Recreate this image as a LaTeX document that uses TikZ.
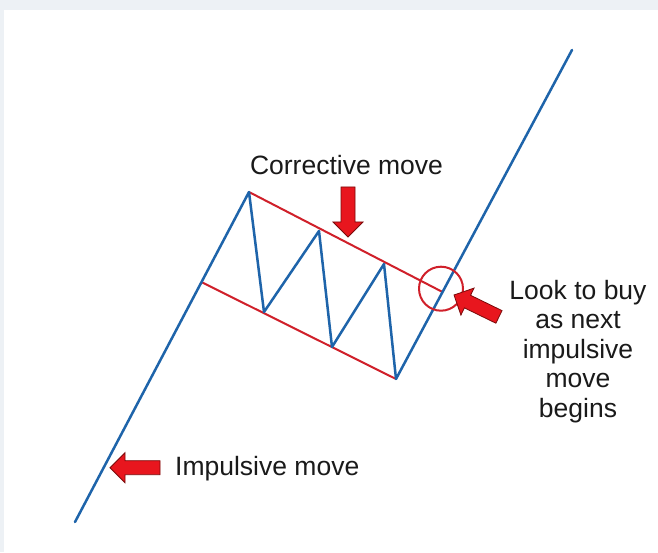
\documentclass[tikz,border=0pt]{standalone}
\usepackage{fontspec}
\setmainfont{Liberation Sans}
\usetikzlibrary{calc}
\definecolor{bgstrip}{HTML}{EDF1F5}
\definecolor{trendblue}{HTML}{1E64AA}
\definecolor{chanred}{HTML}{D0202A}
\definecolor{arrowfill}{HTML}{E8161E}
\definecolor{arrowedge}{HTML}{7A0A0A}
\definecolor{txtcol}{HTML}{1A1A1A}
\tikzset{
  trend/.style={draw=trendblue, line width=2.5pt, line cap=round, line join=round},
  channel/.style={draw=chanred, line width=2pt},
  blockarrow/.pic={\filldraw[fill=arrowfill, draw=arrowedge, line width=0.8pt, line join=miter]
     (0,0) -- (-15,15) -- (-15,7) -- (-50,7) -- (-50,-7) -- (-15,-7) -- (-15,-15) -- cycle;},
  lbltext/.style={text=txtcol, font=\fontsize{26.5}{29.5}\selectfont, inner sep=0pt}
}
\begin{document}
\begin{tikzpicture}[x=1pt,y=1pt]
\useasboundingbox (0,0) rectangle (658,552);
\fill[bgstrip] (0,0) rectangle (658,552);
\fill[white] (4,0) rectangle (658,542);
% trend vertices
\coordinate (A) at (75,30);
\coordinate (P1) at (249,360);
\coordinate (V1) at (264,240);
\coordinate (P2) at (319,321);
\coordinate (V2) at (332,205);
\coordinate (P3) at (384,288);
\coordinate (V3) at (396,173);
\coordinate (E) at (572,502);
\coordinate (L0) at ($(A)!0.727!(P1)$);
\coordinate (U1) at ($(V3)!0.2644!(E)$);
% channel
\draw[channel] (P1) -- (U1);
\draw[channel] (L0) -- (V3);
% price path
\draw[trend] (A) -- (P1) -- (V1) -- (P2) -- (V2) -- (P3) -- (V3) -- (E);
% breakout ring
\node[circle, draw=chanred, line width=2pt, minimum size=44pt, inner sep=0pt] (ring) at (441,263.3) {};
% arrows
\pic[rotate=-90] at (348,315) {blockarrow};
\pic[rotate=154] at (454,257) {blockarrow};
\pic[rotate=180] at (110,84.3) {blockarrow};
% texts
\node[lbltext, anchor=base] (corr) at (346.5,377) {Corrective move};
\node[lbltext, anchor=base west] (imp) at (175,77) {Impulsive move};
\node[lbltext, align=center, anchor=north] (buy) at (578,272) {Look to buy\\as next\\impulsive\\move\\begins};
\end{tikzpicture}
\end{document}
